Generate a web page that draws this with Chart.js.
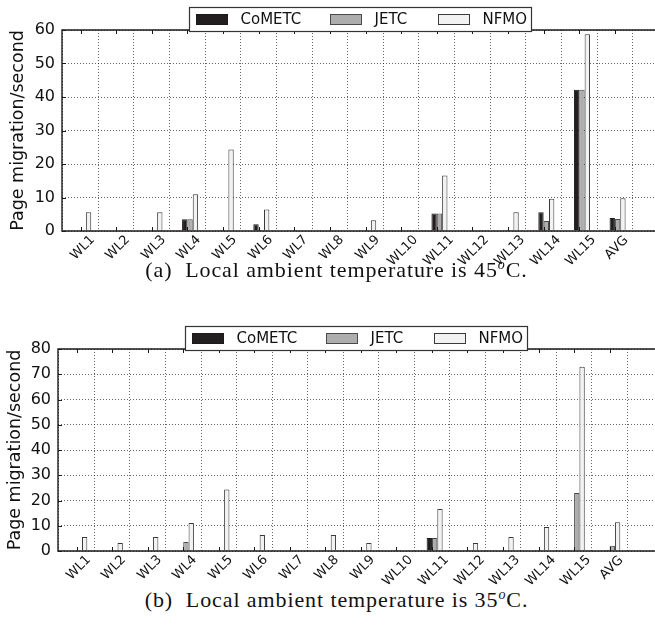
<!DOCTYPE html>
<html>
<head>
<meta charset="utf-8">
<script src="https://cdn.jsdelivr.net/npm/chart.js@4.4.0/dist/chart.umd.min.js"></script>
<style>
  body { margin: 0; background: #fff; width: 655px; height: 625px; position: relative; overflow: hidden; }
  canvas { position: absolute; left: 0; }
  #chartA { top: 0; }
  #chartB { top: 300px; }
  .caption {
    position: absolute; left: 9px; width: 655px; text-align: center;
    font-family: "Liberation Serif", serif; font-size: 22px; line-height: 22px;
    letter-spacing: 0.9px; color: #111; white-space: nowrap;
  }
  .caption sup { font-size: 14px; font-style: italic; vertical-align: 8px; line-height: 0; }
  .xlabel {
    position: absolute; font-family: "DejaVu Sans", sans-serif; font-size: 13px;
    line-height: 13px; color: #111; white-space: nowrap;
    transform: translate(-50%, -50%) rotate(-45deg);
  }
</style>
</head>
<body>
<canvas id="chartA" width="655" height="262"></canvas>
<div class="caption" style="top: 259px;">(a)&nbsp; Local ambient temperature is 45<sup>o</sup>C.</div>
<canvas id="chartB" width="655" height="285"></canvas>
<div class="caption" style="top: 589px;">(b)&nbsp; Local ambient temperature is 35<sup>o</sup>C.</div>

<script>
var categories = ['WL1', 'WL2', 'WL3', 'WL4', 'WL5', 'WL6', 'WL7', 'WL8',
                  'WL9', 'WL10', 'WL11', 'WL12', 'WL13', 'WL14', 'WL15', 'AVG'];
var seriesNames = ['CoMETC', 'JETC', 'NFMO'];

// (a) 45 C
var cometc45 = [0, 0, 0, 3.5, 0, 2.0, 0, 0, 0, 0, 5.2, 0, 0, 5.6, 42.2, 3.9];
var jetc45   = [0, 0, 0, 3.5, 0, 0, 0, 0, 0, 0, 5.2, 0, 0, 3.0, 42.2, 3.6];
var nfmo45   = [5.6, 0, 5.6, 11.0, 24.3, 6.4, 0, 0, 3.2, 0, 16.6, 0, 5.6, 9.6, 58.7, 9.8];

// (b) 35 C
var cometc35 = [0, 0, 0, 0, 0, 0, 0, 0, 0, 0, 5.1, 0, 0, 0, 0, 0.4];
var jetc35   = [0, 0, 0, 3.6, 0, 0, 0, 0, 0, 0, 5.1, 0, 0, 0, 23.0, 2.1];
var nfmo35   = [5.5, 3.2, 5.5, 11.1, 24.4, 6.3, 0, 6.3, 3.2, 0, 16.6, 3.2, 5.5, 9.5, 73.0, 11.4];

var yMax45 = 60;
var yMax35 = 80;
var yStep = 10;

var fillColors = ['#231f20', '#adadad', '#f2f2f2'];
var edgeColors = ['#1a1a1a', '#4a4a4a', '#3a3a3a'];

Chart.defaults.font.family = '"DejaVu Sans", sans-serif';
Chart.defaults.color = '#111';

// matplotlib-like frame, inward ticks and a boxed legend over the top edge
var framePlugin = {
    id: 'frame',
    afterDraw: function(chart) {
        var ctx = chart.ctx, a = chart.chartArea;
        var xs = chart.scales.x, ys = chart.scales.y;
        ctx.save();
        ctx.strokeStyle = '#1a1a1a';
        ctx.lineWidth = 1.4;
        ctx.beginPath();
        ctx.moveTo(a.right, a.top); ctx.lineTo(a.left, a.top);
        ctx.lineTo(a.left, a.bottom); ctx.lineTo(a.right, a.bottom);
        ctx.stroke();

        ctx.lineWidth = 1;
        ctx.beginPath();
        xs.ticks.forEach(function(t) {
            var px = Math.round(xs.getPixelForValue(t.value)) + 0.5;
            ctx.moveTo(px, a.top); ctx.lineTo(px, a.top + 4);
            ctx.moveTo(px, a.bottom); ctx.lineTo(px, a.bottom - 4);
        });
        ys.ticks.forEach(function(t) {
            var py = Math.round(ys.getPixelForValue(t.value)) + 0.5;
            ctx.moveTo(a.left, py); ctx.lineTo(a.left + 4, py);
        });
        ctx.stroke();

        // legend
        var lx = Math.round(a.left + 127) + 0.5, ly = Math.round(a.top - 23) + 0.5;
        var itemX = [7, 141, 249];
        ctx.fillStyle = '#fff';
        ctx.fillRect(lx, ly, 342, 24);
        ctx.strokeStyle = '#333';
        ctx.lineWidth = 1.2;
        ctx.strokeRect(lx, ly, 342, 24);
        ctx.font = '15px "DejaVu Sans"';
        ctx.textBaseline = 'middle';
        chart.data.datasets.forEach(function(ds, i) {
            var px = lx + itemX[i];
            ctx.fillStyle = ds.backgroundColor;
            ctx.fillRect(px, ly + 7, 31, 10);
            ctx.strokeStyle = ds.borderColor;
            ctx.lineWidth = 1;
            ctx.strokeRect(px, ly + 7, 31, 10);
            ctx.fillStyle = '#111';
            ctx.fillText(ds.label, px + 44, ly + 12.5);
        });
        ctx.restore();
    }
};

// rotated category labels as page text, centred under each tick
function addXLabels(chart, canvasTop) {
    var xs = chart.scales.x, a = chart.chartArea;
    xs.ticks.forEach(function(t) {
        var div = document.createElement('div');
        div.className = 'xlabel';
        div.textContent = categories[t.value];
        document.body.appendChild(div);
        var box = (div.offsetWidth + 9) * Math.SQRT1_2;
        div.style.left = (xs.getPixelForValue(t.value) + 1) + 'px';
        div.style.top = (canvasTop + a.bottom + 3 + box / 2) + 'px';
    });
}

// tick sits on the boundary between the 1st and 2nd bar of each group
var GROUP_SHIFT = 0.075;

function makeChart(id, series, yMax, opt) {
    var ctx = document.getElementById(id).getContext('2d');
    return new Chart(ctx, {
        type: 'bar',
        data: {
            datasets: series.map(function(vals, k) {
                return {
                    label: seriesNames[k],
                    data: vals.map(function(v, i) { return {x: i + GROUP_SHIFT, y: v}; }),
                    backgroundColor: fillColors[k],
                    borderColor: edgeColors[k],
                    borderWidth: 1,
                    categoryPercentage: 0.45,
                    barPercentage: 1,
                    clip: 0
                };
            })
        },
        options: {
            responsive: false,
            animation: false,
            layout: { padding: { top: opt.top, left: 0, right: 0, bottom: 0 } },
            plugins: { legend: { display: false }, tooltip: { enabled: false } },
            scales: {
                x: {
                    type: 'linear',
                    min: 0,
                    max: opt.xMax,
                    afterBuildTicks: function(scale) {
                        scale.ticks = categories.map(function(c, i) { return {value: i}; });
                    },
                    afterFit: function(scale) { scale.height = opt.xAxisH; },
                    grid: { color: 'rgba(0,0,0,0.6)', lineWidth: 1, drawTicks: false },
                    border: { display: false, dash: [1, 2] },
                    ticks: { display: false }
                },
                y: {
                    min: 0,
                    max: yMax,
                    afterFit: function(scale) { scale.width = opt.yAxisW; },
                    grid: { color: 'rgba(0,0,0,0.6)', lineWidth: 1, drawTicks: false },
                    border: { display: false, dash: [1, 2] },
                    ticks: { stepSize: yStep, padding: 7, font: { size: 16 } },
                    title: {
                        display: true,
                        text: 'Page migration/second',
                        font: { size: 17.5 },
                        padding: { top: opt.titlePad, bottom: 0 }
                    }
                }
            }
        },
        plugins: [framePlugin]
    });
}

var chartA = makeChart('chartA', [cometc45, jetc45, nfmo45], yMax45,
    { top: 30, xAxisH: 31, yAxisW: 62, xMax: 593 / 38, titlePad: 8 });
var chartB = makeChart('chartB', [cometc35, jetc35, nfmo35], yMax35,
    { top: 49, xAxisH: 34, yAxisW: 58, xMax: 597 / 37.9, titlePad: 5 });
addXLabels(chartA, 0);
addXLabels(chartB, 300);
</script>
</body>
</html>
